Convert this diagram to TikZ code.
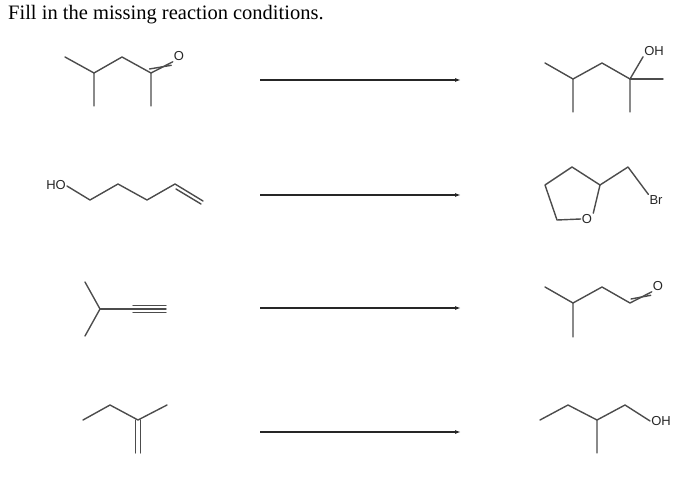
\documentclass[tikz,border=0pt]{standalone}
\usepackage{fontspec}
\setmainfont{Liberation Serif}
\newfontfamily\atomfont{Liberation Sans}
\usetikzlibrary{arrows.meta}
\begin{document}
\begin{tikzpicture}[x=1pt,y=-1pt,
  bond/.style={line width=1.4pt,color=black!70,line cap=round,line join=round},
  atom/.style={font=\atomfont\fontsize{13}{13}\selectfont,inner sep=1pt,text=black!85},
  rxn/.style={line width=1.3pt,color=black!85,-{Latex[length=6pt,width=4pt]}},
  title/.style={font=\fontsize{20.5}{22}\selectfont,anchor=west,inner sep=0pt}]
\useasboundingbox (0,0) rectangle (700,486);
\node[title] (t) at (8,15) {Fill in the missing reaction conditions.};
% arrows
\foreach \n/\y in {1/80,2/195,3/308,4/432}{
  \coordinate (s\n) at (260,\y); \coordinate (e\n) at (461,\y);
  \draw[rxn] (s\n) -- (e\n);}
% molecule 1 left
\draw[bond] (65,57) -- (94,73) -- (94,106);
\draw[bond] (94,73) -- (122,57) -- (151,73) -- (151,106);
\node[atom] (o1) at (179,56) {O};
\draw[bond] (151,73) -- (o1.south west);
\draw[bond] (149.5,69) -- ([xshift=-1.5pt,yshift=-3.5pt]o1.south west);
% molecule 1 right
\draw[bond] (545,63) -- (573,79) -- (573,112);
\draw[bond] (573,79) -- (602,63) -- (630,79) -- (630,112);
\draw[bond] (630,79) -- (663,79);
\node[atom] (oh1) at (654,51) {OH};
\draw[bond] (630,79) -- (oh1.south west);
% molecule 2 left
\node[atom] (ho2) at (56,185) {HO};
\draw[bond] (ho2.east) ++(0,1) -- (90,200) -- (118,184) -- (147,200) -- (175,184) -- (203,201);
\draw[bond] (176,189) -- (201,204);
% molecule 2 right
\node[atom] (o2) at (587,219) {O};
\node[atom] (br2) at (656,200) {Br};
\draw[bond] (o2.west) -- (557,220) -- (545,185) -- (572,167) -- (600,185) -- (o2.north east);
\draw[bond] (600,185) -- (628,167) -- (br2.north west);
% molecule 3 left
\draw[bond] (85,282) -- (100,309) -- (85,336);
\draw[bond] (100,309) -- (166,309);
\draw[bond] (133,305.5) -- (166,305.5);
\draw[bond] (133,312.5) -- (166,312.5);
% molecule 3 right
\node[atom] (o3) at (658,286) {O};
\draw[bond] (545,287) -- (573,303) -- (573,337);
\draw[bond] (573,303) -- (602,287) -- (630,303) -- (o3.south west);
\draw[bond] (631,299) -- ([xshift=-1pt,yshift=-3.5pt]o3.south west);
% molecule 4 left
\draw[bond] (83,420) -- (110,405) -- (138,420) -- (167,405);
\draw[bond] (135.5,420) -- (135.5,453);
\draw[bond] (140.5,420) -- (140.5,453);
% molecule 4 right
\node[atom] (oh4) at (661,421) {OH};
\draw[bond] (540,420) -- (568,405) -- (597,420) -- (597,453);
\draw[bond] (597,420) -- (625,405) -- (oh4.west);
\end{tikzpicture}
\end{document}
